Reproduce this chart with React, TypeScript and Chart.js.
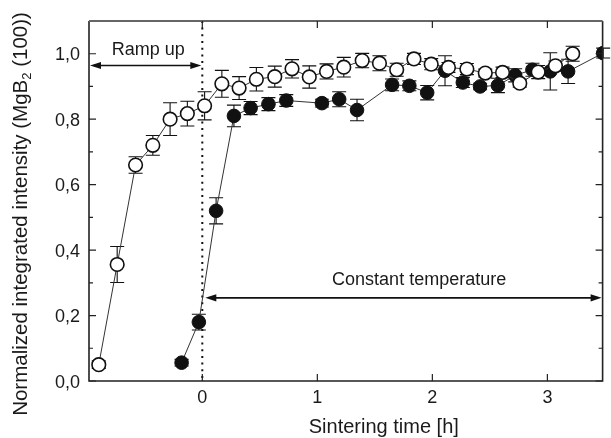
import React, { useEffect, useRef } from "react";
import { Chart, registerables } from "chart.js";

Chart.register(...registerables);

// Ramp-up series (open circles)
const rampTime = [-0.9, -0.74, -0.58, -0.43, -0.28, -0.13, 0.02, 0.17, 0.32, 0.47, 0.63, 0.78, 0.93, 1.08, 1.23, 1.39, 1.54, 1.69, 1.84, 1.99, 2.14, 2.3, 2.46, 2.61, 2.76, 2.92, 3.07, 3.22];
const rampIntensity = [0.05, 0.356, 0.66, 0.72, 0.8, 0.817, 0.841, 0.908, 0.895, 0.922, 0.93, 0.954, 0.929, 0.946, 0.959, 0.979, 0.971, 0.951, 0.984, 0.968, 0.958, 0.953, 0.941, 0.943, 0.91, 0.944, 0.963, 1.0];
const rampError = [0.012, 0.055, 0.025, 0.03, 0.05, 0.038, 0.043, 0.041, 0.035, 0.036, 0.032, 0.028, 0.034, 0.023, 0.03, 0.022, 0.023, 0.02, 0.017, 0.017, 0.015, 0.017, 0.012, 0.016, 0.012, 0.02, 0.015, 0.023];

// Constant-temperature series (filled circles)
const constTime = [-0.18, -0.03, 0.12, 0.275, 0.42, 0.575, 0.73, 1.04, 1.19, 1.345, 1.65, 1.8, 1.955, 2.11, 2.265, 2.415, 2.57, 2.72, 2.87, 3.025, 3.18, 3.485];
const constIntensity = [0.056, 0.18, 0.52, 0.81, 0.834, 0.846, 0.857, 0.849, 0.861, 0.828, 0.905, 0.902, 0.881, 0.948, 0.912, 0.9, 0.903, 0.934, 0.951, 0.946, 0.946, 1.002];
const constError = [0.01, 0.024, 0.04, 0.033, 0.02, 0.02, 0.018, 0.012, 0.023, 0.033, 0.018, 0.015, 0.022, 0.046, 0.015, 0.01, 0.022, 0.02, 0.02, 0.057, 0.037, 0.015];

// Axis ticks
const xTickValues = [0, 1, 2, 3];
const xTickLabels = ["0", "1", "2", "3"];
const yTickValues = [0, 0.2, 0.4, 0.6, 0.8, 1.0];
const yTickLabels = ["0,0", "0,2", "0,4", "0,6", "0,8", "1,0"];
const yMinorValues = [0.1, 0.3, 0.5, 0.7, 0.9];

// Annotations (data units)
const rampArrowY = 0.964;
const constArrowY = 0.254;
const rampLabel = { text: "Ramp up", x: -0.47, y: 1.012 };
const constLabel = { text: "Constant temperature", x: 1.885, y: 0.307 };
const xTitle = "Sintering time [h]";
const yTitleMain = "Normalized integrated intensity (MgB";
const yTitleSub = "2";
const yTitleEnd = " (100))";

const FONT = '"Liberation Sans", Arial, Helvetica, sans-serif';

function arrowHead(ctx: CanvasRenderingContext2D, tipX: number, y: number, dir: number) {
  const len = 11;
  const hw = 3.6;
  ctx.beginPath();
  ctx.moveTo(tipX, y);
  ctx.lineTo(tipX - dir * len, y - hw);
  ctx.lineTo(tipX - dir * len, y + hw);
  ctx.closePath();
  ctx.fill();
}

function doubleArrow(ctx: CanvasRenderingContext2D, x1: number, x2: number, y: number) {
  ctx.beginPath();
  ctx.moveTo(x1 + 4, y);
  ctx.lineTo(x2 - 4, y);
  ctx.stroke();
  arrowHead(ctx, x1, y, -1);
  arrowHead(ctx, x2, y, 1);
}

const decorations = {
  id: "decorations",
  beforeDatasetsDraw(chart: any) {
    const { ctx, chartArea: a, scales } = chart;
    const x = scales.x;
    const y = scales.y;
    ctx.save();
    // dotted vertical line at t = 0
    const px = x.getPixelForValue(0);
    ctx.strokeStyle = "#111";
    ctx.lineWidth = 2;
    ctx.setLineDash([2, 4.7]);
    ctx.beginPath();
    ctx.moveTo(px, a.bottom - 3);
    ctx.lineTo(px, a.top);
    ctx.stroke();
    ctx.setLineDash([]);

    // error bars
    ctx.strokeStyle = "#111";
    ctx.lineWidth = 1.1;
    const cap = 7;
    const drawErr = (xs: number[], ys: number[], es: number[]) => {
      for (let i = 0; i < xs.length; i++) {
        const cx = x.getPixelForValue(xs[i]);
        const top = y.getPixelForValue(ys[i] + es[i]);
        const bot = y.getPixelForValue(ys[i] - es[i]);
        ctx.beginPath();
        ctx.moveTo(cx, top);
        ctx.lineTo(cx, bot);
        ctx.moveTo(cx - cap, top);
        ctx.lineTo(cx + cap, top);
        ctx.moveTo(cx - cap, bot);
        ctx.lineTo(cx + cap, bot);
        ctx.stroke();
      }
    };
    drawErr(constTime, constIntensity, constError);
    drawErr(rampTime, rampIntensity, rampError);
    ctx.restore();
  },
  afterDatasetsDraw(chart: any) {
    const { ctx, chartArea: a, scales } = chart;
    const x = scales.x;
    const y = scales.y;
    ctx.save();
    // frame
    ctx.lineCap = "butt";
    ctx.strokeStyle = "#222";
    ctx.lineWidth = 1.6;
    ctx.beginPath();
    ctx.moveTo(a.left, a.top);
    ctx.lineTo(a.left, a.bottom);
    ctx.lineTo(a.right, a.bottom);
    ctx.lineTo(a.right, a.top);
    ctx.stroke();
    ctx.strokeStyle = "#666";
    ctx.lineWidth = 2;
    ctx.beginPath();
    ctx.moveTo(a.left, a.top);
    ctx.lineTo(a.right, a.top);
    ctx.stroke();

    // inward ticks
    ctx.strokeStyle = "#222";
    ctx.lineWidth = 1.2;
    ctx.beginPath();
    for (const v of yTickValues) {
      const py = y.getPixelForValue(v);
      ctx.moveTo(a.left, py);
      ctx.lineTo(a.left + 7, py);
      ctx.moveTo(a.right, py);
      ctx.lineTo(a.right - 7, py);
    }
    for (const v of yMinorValues) {
      const py = y.getPixelForValue(v);
      ctx.moveTo(a.left, py);
      ctx.lineTo(a.left + 4, py);
      ctx.moveTo(a.right, py);
      ctx.lineTo(a.right - 4, py);
    }
    for (const v of xTickValues) {
      const px = x.getPixelForValue(v);
      ctx.moveTo(px, a.bottom);
      ctx.lineTo(px, a.bottom - 7);
      ctx.moveTo(px, a.top);
      ctx.lineTo(px, a.top + 7);
    }
    ctx.stroke();

    // tick labels
    ctx.fillStyle = "#1a1a1a";
    ctx.font = `18px ${FONT}`;
    ctx.textBaseline = "alphabetic";
    ctx.textAlign = "right";
    yTickValues.forEach((v, i) => {
      ctx.fillText(yTickLabels[i], a.left - 9, y.getPixelForValue(v) + 6.5);
    });
    ctx.textAlign = "center";
    xTickValues.forEach((v, i) => {
      ctx.fillText(xTickLabels[i], x.getPixelForValue(v), a.bottom + 22);
    });

    // axis titles
    ctx.font = `20px ${FONT}`;
    ctx.fillText(xTitle, (a.left + a.right) / 2 + 38, a.bottom + 52);

    ctx.save();
    ctx.translate(27, 214);
    ctx.rotate(-Math.PI / 2);
    ctx.textAlign = "left";
    const mainFont = `20.5px ${FONT}`;
    const subFont = `13px ${FONT}`;
    ctx.font = mainFont;
    const w1 = ctx.measureText(yTitleMain).width;
    const w3 = ctx.measureText(yTitleEnd).width;
    ctx.font = subFont;
    const w2 = ctx.measureText(yTitleSub).width;
    const total = w1 + w2 + w3;
    let cx = -total / 2;
    ctx.font = mainFont;
    ctx.fillText(yTitleMain, cx, 0);
    cx += w1;
    ctx.font = subFont;
    ctx.fillText(yTitleSub, cx, 4);
    cx += w2;
    ctx.font = mainFont;
    ctx.fillText(yTitleEnd, cx, 0);
    ctx.restore();

    // arrows
    ctx.strokeStyle = "#111";
    ctx.fillStyle = "#111";
    ctx.lineWidth = 1.6;
    const x0 = x.getPixelForValue(0);
    doubleArrow(ctx, a.left + 1, x0 - 1, y.getPixelForValue(rampArrowY));
    doubleArrow(ctx, x0 + 3, a.right - 1, y.getPixelForValue(constArrowY));

    // annotation labels
    ctx.fillStyle = "#1a1a1a";
    ctx.font = `18px ${FONT}`;
    ctx.textAlign = "center";
    ctx.textBaseline = "middle";
    ctx.fillText(rampLabel.text, x.getPixelForValue(rampLabel.x), y.getPixelForValue(rampLabel.y));
    ctx.fillText(constLabel.text, x.getPixelForValue(constLabel.x), y.getPixelForValue(constLabel.y));
    ctx.restore();
  },
};

export default function App() {
  const ref = useRef<HTMLCanvasElement | null>(null);
  useEffect(() => {
    if (!ref.current) return;
    const chart = new Chart(ref.current, {
      type: "scatter",
      data: {
        datasets: [
          {
            label: "Ramp up",
            data: rampTime.map((t, i) => ({ x: t, y: rampIntensity[i] })),
            showLine: true,
            borderColor: "#333",
            borderWidth: 1,
            pointRadius: 6.8,
            pointHoverRadius: 6.8,
            pointBackgroundColor: "#ffffff",
            pointBorderColor: "#111",
            pointBorderWidth: 1.6,
          },
          {
            label: "Constant temperature",
            data: constTime.map((t, i) => ({ x: t, y: constIntensity[i] })),
            showLine: true,
            borderColor: "#333",
            borderWidth: 1,
            pointRadius: 6.8,
            pointHoverRadius: 6.8,
            pointBackgroundColor: "#111",
            pointBorderColor: "#111",
            pointBorderWidth: 1,
          },
        ],
      },
      options: {
        animation: false,
        responsive: false,
        maintainAspectRatio: false,
        events: [],
        layout: { padding: { top: 21, right: 2, left: 0, bottom: 0 } },
        plugins: { legend: { display: false }, tooltip: { enabled: false }, title: { display: false } },
        scales: {
          x: {
            type: "linear",
            min: -0.985,
            max: 3.48,
            grid: { display: false, drawTicks: false },
            border: { display: false },
            ticks: { display: false },
            afterBuildTicks: (s: any) => {
              s.ticks = xTickValues.map((v) => ({ value: v }));
            },
            afterFit: (s: any) => {
              s.height = 57;
            },
          },
          y: {
            type: "linear",
            min: 0,
            max: 1.1,
            grid: { display: false, drawTicks: false },
            border: { display: false },
            ticks: { display: false },
            afterBuildTicks: (s: any) => {
              s.ticks = yTickValues.map((v) => ({ value: v }));
            },
            afterFit: (s: any) => {
              s.width = 89;
            },
          },
        },
      },
      plugins: [decorations],
    });
    return () => chart.destroy();
  }, []);
  return (
    <div style={{ position: "absolute", left: 0, top: 0, width: 611, height: 438, background: "#fff" }}>
      <canvas ref={ref} width={611} height={438} style={{ display: "block", width: 611, height: 438 }} />
    </div>
  );
}
